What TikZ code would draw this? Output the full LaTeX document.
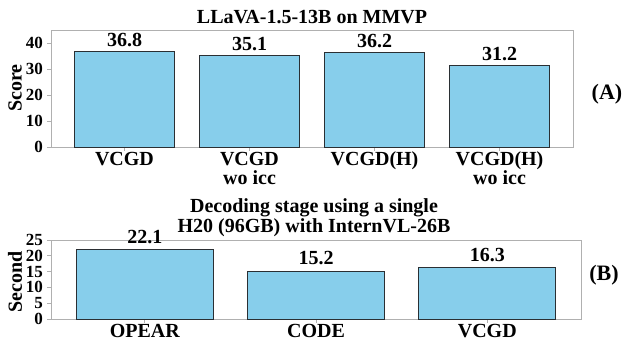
\documentclass[tikz,border=0pt]{standalone}
\usepackage{fontspec}
\setmainfont{Liberation Serif}
\definecolor{barblue}{HTML}{87CEEB}
\definecolor{bardark}{HTML}{2A2F33}
\definecolor{framegray}{HTML}{B0B0B0}
\begin{document}
\begin{tikzpicture}[x=1pt,y=-1pt,
  bar/.style={fill=barblue, draw=bardark, line width=0.9pt},
  axframe/.style={draw=framegray, line width=0.9pt},
  tickmark/.style={draw=framegray, line width=0.8pt},
  val/.style={font=\fontsize{20}{22}\selectfont\bfseries, anchor=base, inner sep=0pt},
  ytl/.style={font=\fontsize{17}{17}\selectfont\bfseries, anchor=east, inner sep=0pt},
  xtl/.style={font=\fontsize{20}{20}\selectfont\bfseries, anchor=base, inner sep=0pt},
  ttl/.style={font=\fontsize{20}{20}\selectfont\bfseries, anchor=base, inner sep=0pt},
  ylab/.style={font=\fontsize{20}{20}\selectfont\bfseries, rotate=90, inner sep=0pt},
  panel/.style={font=\fontsize{22}{22}\selectfont\bfseries, inner sep=0pt}]
\useasboundingbox (0,0) rectangle (626,338);

% ---------- Panel A ----------
\node[ttl] (tA) at (312,23) {LLaVA-1.5-13B on MMVP};
\draw[axframe] (51,30) rectangle (573,147);
% y ticks
\foreach \v/\n in {0/a0,10/a1,20/a2,30/a3,40/a4}{
  \draw[tickmark] (47,{147-2.6*\v}) -- (51,{147-2.6*\v});
  \node[ytl] (\n) at (43,{147-2.6*\v}) {\v};
}
\node[ylab] (sA) at (15,88) {Score};
% bars
\foreach \c/\v/\n in {124.5/36.8/b1,249.5/35.1/b2,374.5/36.2/b3,499.5/31.2/b4}{
  \draw[tickmark] (\c,147) -- (\c,150.5);
  \draw[bar] ({\c-50},147) rectangle ({\c+50},{147-2.6*\v});
  \node[val] (\n) at (\c,{147-2.6*\v-5}) {\v};
}
\node[xtl] (xa1) at (124.5,165) {VCGD};
\node[xtl] (xa2) at (249.5,165) {VCGD};
\node[xtl] (xa2b) at (249.5,184) {wo icc};
\node[xtl] (xa3) at (374.5,165) {VCGD(H)};
\node[xtl] (xa4) at (499.5,165) {VCGD(H)};
\node[xtl] (xa4b) at (499.5,184) {wo icc};
\node[panel] (pA) at (607,94) {(A)};

% ---------- Panel B ----------
\node[ttl] (tB1) at (314,212) {Decoding stage using a single};
\node[ttl] (tB2) at (314,232) {H20 (96GB) with InternVL-26B};
\draw[axframe] (51,240) rectangle (581,319);
\foreach \v/\n in {0/c0,5/c1,10/c2,15/c3,20/c4,25/c5}{
  \draw[tickmark] (47,{319-3.16*\v}) -- (51,{319-3.16*\v});
  \node[ytl] (\n) at (43,{319-3.16*\v}) {\v};
}
\node[ylab] (sB) at (15,282) {Second};
\foreach \c/\v/\n in {144.75/22.1/d1,316/15.2/d2,487.25/16.3/d3}{
  \draw[tickmark] (\c,319) -- (\c,322.5);
  \draw[bar] ({\c-68.5},319) rectangle ({\c+68.5},{319-3.16*\v});
  \node[val] (\n) at (\c,{319-3.16*\v-6}) {\v};
}
\node[xtl] (xb1) at (144.75,337) {OPEAR};
\node[xtl] (xb2) at (316,337) {CODE};
\node[xtl] (xb3) at (487.25,337) {VCGD};
\node[panel] (pB) at (604,275) {(B)};
\end{tikzpicture}
\end{document}
